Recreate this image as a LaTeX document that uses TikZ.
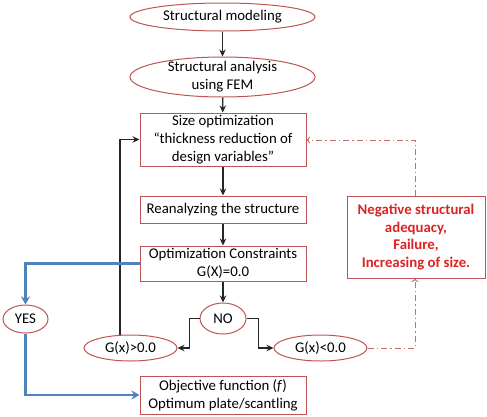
\documentclass[tikz,border=0pt]{standalone}
\usepackage{fontspec}
\setmainfont{Carlito}
\usetikzlibrary{shapes.geometric,arrows.meta,calc}
\definecolor{bord}{RGB}{190,85,82}
\definecolor{redtxt}{RGB}{218,35,35}
\definecolor{redline}{RGB}{200,110,108}
\definecolor{blueln}{RGB}{79,129,189}
\begin{document}
\begin{tikzpicture}[x=1pt,y=-1pt,
  every node/.style={font=\fontsize{14.8}{18}\selectfont, inner sep=0pt, align=center},
  ell/.style={ellipse, draw=bord, line width=1pt},
  bx/.style={rectangle, draw=bord, line width=1pt, minimum width=166pt},
  arr/.style={-{Stealth[length=7pt,width=6.5pt]}, line width=1.2pt, black!85},
  blu/.style={-{Stealth[length=8pt,width=9pt,inset=2.5pt]}, line width=2.5pt, blueln},
  rdash/.style={-{To[length=3.5pt,width=7pt]}, line width=1pt, redline, dash pattern=on 6pt off 3pt on 1.5pt off 3pt}]
\useasboundingbox (0,0) rectangle (487,416);
\node[ell, minimum width=185pt, minimum height=28pt] (e1) at (222.5,17) {};
\node (t1) at (e1) {Structural modeling};
\node[ell, minimum width=185pt, minimum height=40pt] (e2) at (222.5,77) {};
\node (t2) at (e2) {Structural analysis\\using FEM};
\node[bx, minimum height=53pt] (b1) at (223,139.5) {Size optimization\\``thickness reduction of\\design variables''};
\node[bx, minimum height=27pt] (b2) at (223,209.5) {Reanalyzing the structure};
\node[bx, minimum height=35pt] (b3) at (223,263.5) {Optimization Constraints\\G(X)=0.0};
\node[ell, minimum width=46pt, minimum height=31pt] (no) at (223,318.5) {};
\node (tno) at (no) {NO};
\node[ell, minimum width=93pt, minimum height=26pt] (gp) at (130.5,348) {};
\node (tgp) at (gp) {G(x)>0.0};
\node[ell, minimum width=93pt, minimum height=26pt] (gn) at (320.5,348) {};
\node (tgn) at (gn) {G(x)<0.0};
\node[bx, minimum height=38pt] (obj) at (223,395) {Objective function (\textit{f})\\Optimum plate/scantling};
\node[ell, minimum width=45pt, minimum height=28pt] (yes) at (25.5,319) {};
\node (tyes) at (yes) {YES};
\node[rectangle, draw=bord, line width=1pt, minimum width=138pt, minimum height=82pt,
  text=redtxt, font=\fontsize{14.8}{17.5}\selectfont\bfseries] (rb) at (416,237)
  {Negative structural\\adequacy,\\Failure,\\Increasing of size.};
\draw[arr] (e1) -- (e2);
\draw[arr] (e2) -- (b1);
\draw[arr] (b1) -- (b2);
\draw[arr] (b2) -- (b3);
\draw[arr] (b3) -- (no);
\draw[arr] (no.west) -- ++(-10,0) |- (gp.east);
\draw[arr] (no.east) -- ++(12,0) |- (gn.west);
\draw[arr] ($(gp.north)+(-10.5,0.3)$) |- (b1.west);
\draw[blu] (b3.west) -| (yes.north);
\draw[blu] (yes.south) |- (obj.west);
\coordinate (c1) at (415,348);
\coordinate (c2) at (415,140);
\draw[rdash] (gn.east) -- (c1) -- (rb.south -| c1);
\draw[rdash] (rb.north -| c2) -- (c2) -- (b1.east |- c2);
\end{tikzpicture}
\end{document}
